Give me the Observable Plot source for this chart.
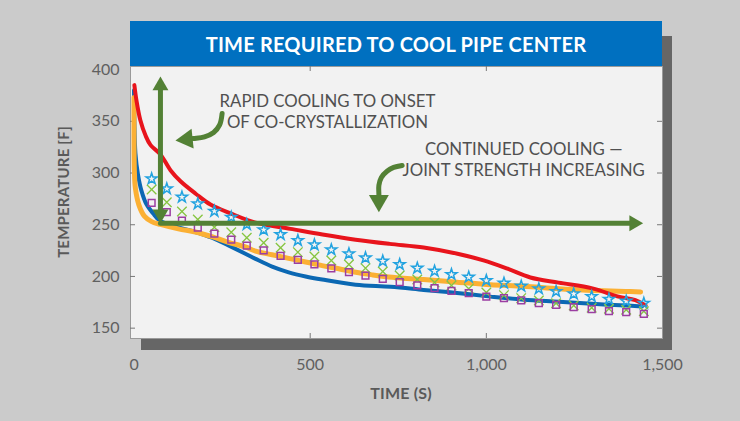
<!DOCTYPE html>
<html>
<head>
<meta charset="utf-8">
<script src="https://cdn.jsdelivr.net/npm/d3@7"></script>
<script src="https://cdn.jsdelivr.net/npm/@observablehq/plot@0.6"></script>
<style>
  html, body { margin: 0; padding: 0; background: #cbcbcb; }
  #wrap { position: relative; width: 740px; height: 421px; overflow: hidden; background: #cbcbcb; font-family: Lato, "Open Sans", sans-serif; }
  #shadow { position: absolute; left: 141px; top: 36px; width: 531px; height: 314px; background: #666666; }
  #title { position: absolute; left: 130px; top: 21px; width: 532px; height: 45px; background: #0070c0; color: #ffffff;
           font: bold 20px Lato, sans-serif; display: flex; align-items: center; justify-content: center; letter-spacing: 0.2px; }
  #chart { position: absolute; left: 0; top: 0; }
  .axt { position: absolute; white-space: nowrap; font: bold 15px Lato, sans-serif; color: #5a5a5a; letter-spacing: 0.2px; }
</style>
</head>
<body>
<div id="wrap">
  <div id="shadow"></div>
  <div id="chart"></div>
  <div id="title">TIME REQUIRED TO COOL PIPE CENTER</div>
  <div class="axt" style="left:63px; top:192px; transform: translate(-50%,-50%) rotate(-90deg);">TEMPERATURE [F]</div>
  <div class="axt" style="left:401px; top:392px; transform: translate(-50%,-50%); font-size:16px;">TIME (S)</div>
</div>
<script>
// ---- axis ticks ----
const xTicks = [0, 500, 1000, 1500];
const yTicks = [150, 200, 250, 300, 350, 400];
const xTickMarks = [500, 1000];
const yTickMarks = [150, 200, 250, 300, 350];

// ---- red line ----
const redTime = [1, 7, 18, 33, 47, 75, 104, 132, 175, 217, 274, 345, 444, 535, 629, 725, 822, 918, 992, 1060, 1125, 1205, 1301, 1375, 1423, 1452];
const redTemp = [385, 370, 351, 336, 327, 318, 302.5, 292, 280, 269.5, 261, 252, 246, 240.5, 235.5, 231.5, 228, 222, 215.5, 207.5, 199, 194, 188.5, 180.5, 177, 172];

// ---- blue line ----
const blueTime = [0, 1, 4, 11, 21, 35, 54, 73, 126, 174, 221, 268, 316, 345, 392, 439, 487, 534, 629, 728, 822, 917, 1012, 1106, 1206, 1300, 1395, 1442];
const blueTemp = [380, 351, 319, 299, 283, 270, 261, 254, 247.5, 243, 237.5, 230, 222, 217, 209.5, 204, 200, 197, 192, 190, 187, 184, 180.5, 177.5, 175.5, 173.5, 172, 171];

// ---- orange line ----
const orangeTime = [0, 0, 1, 4, 14, 30, 50, 75, 126, 174, 221, 268, 316, 345, 392, 439, 487, 534, 581, 629, 676, 723, 822, 917, 1012, 1106, 1206, 1300, 1395, 1438];
const orangeTemp = [373, 335, 302, 285, 269, 258, 253, 250.3, 246, 243, 238.5, 233, 228.5, 224.5, 221, 217.5, 214, 210.5, 207.5, 204, 201.5, 199.5, 197, 194.5, 192, 190.5, 188, 186.5, 185.5, 185];

// ---- marker series ----
const markerTime = [50, 93, 136, 181, 228, 276, 320, 368, 416, 465, 512, 560, 610, 657, 706, 754, 804, 853, 901, 950, 1000, 1050, 1099, 1149, 1198, 1248, 1299, 1348, 1397, 1447];
const starTemp   = [294.4, 284.8, 276.7, 270.3, 263.1, 257.3, 250.3, 245.1, 240.6, 234.8, 230.6, 225.8, 221.9, 218, 214.8, 211.6, 208, 205.1, 201.9, 199.3, 196.1, 193.5, 190.6, 188.1, 185.5, 183.2, 180.6, 178, 176.1, 174.1];
const crossTemp  = [284.1, 271.8, 262.8, 255.1, 247.6, 242.8, 237.4, 232.6, 227.7, 223.5, 219.3, 215.4, 211.6, 208, 204.8, 200.9, 197.1, 194.2, 191.3, 188.1, 184.5, 181.9, 179, 176.8, 174.1, 171.9, 169.7, 168.7, 167.8, 166.4];
const squareTemp = [271.2, 262.1, 254.1, 247.1, 241.3, 235.5, 229.9, 225.1, 220, 216.1, 211.6, 207.7, 204.1, 200.9, 197.7, 194.4, 191.3, 188.6, 186.1, 183.8, 180.6, 179, 176.8, 174.1, 172.6, 170.3, 168.3, 166.4, 165.4, 163.9];

// ---- annotations (data coordinates) ----
const noteLines = ["RAPID COOLING TO ONSET", "OF CO-CRYSTALLIZATION", "CONTINUED COOLING \u2014", "JOINT STRENGTH INCREASING"];
const noteX = [549, 549, 1106, 1106];
const noteY = [369, 349, 322.5, 302.5];

const vShaftX = [75, 75];          const vShaftY = [384.5, 260.4];
const hShaftX = [75, 1419];        const hShaftY = [251.5, 251.5];
const curve1X = [250, 243, 226, 200, 169, 150];          const curve1Y = [357.6, 346.5, 339.2, 335, 333.4, 332.7];
const curve2X = [761, 737, 719, 702, 695, 695, 695];     const curve2Y = [307.3, 305.4, 302, 295.7, 288, 279.3, 273.3];
// straight arrow heads
const headX = [75, 75, 1419];
const headY = [384.5, 260.4, 251.5];
const headAngle = [0, 180, 90];
// curved arrow heads
const bigHeadX = [150, 695];
const bigHeadY = [332.7, 273.3];
const bigHeadAngle = [-96, 180];

// ---- tables ----
const rows = (xs, ys) => xs.map((x, i) => ({x, y: ys[i]}));
const markers = markerTime.map((t, i) => ({t, star: starTemp[i], cross: crossTemp[i], square: squareTemp[i]}));
const notes = noteLines.map((s, i) => ({s, x: noteX[i], y: noteY[i]}));
const heads = headX.map((x, i) => ({x, y: headY[i], a: headAngle[i]}));
const bigHeads = bigHeadX.map((x, i) => ({x, y: bigHeadY[i], a: bigHeadAngle[i]}));

const GREEN = "#538135";

const chart = Plot.plot({
  width: 740,
  height: 421,
  marginLeft: 130,
  marginRight: 78,
  marginTop: 66,
  marginBottom: 83,
  style: {background: "transparent", fontFamily: "Lato, sans-serif", fontSize: "16px", color: "#606060", overflow: "visible"},
  x: {domain: [-10, 1500], label: null},
  y: {domain: [140, 403], label: null},
  marks: [
    Plot.frame({fill: "#f2f2f2", stroke: "#9a9a9a"}),
    Plot.ruleX(xTickMarks, {x: d => d, insetTop: 267, stroke: "#777"}),
    Plot.ruleX(xTickMarks, {x: d => d, insetBottom: 267, stroke: "#777"}),
    Plot.ruleY(yTickMarks, {y: d => d, insetRight: 527, stroke: "#777"}),
    Plot.ruleY(yTickMarks, {y: d => d, insetLeft: 527, stroke: "#777"}),
    Plot.axisY({ticks: yTicks, tickSize: 0, tickPadding: 11, fontSize: 16}),
    Plot.axisX({ticks: xTicks, tickSize: 0, tickPadding: 20, tickFormat: d3.format(","), fontSize: 16}),
    Plot.line(rows(blueTime, blueTemp), {x: "x", y: "y", stroke: "#0b68b3", strokeWidth: 4, curve: "catmull-rom"}),
    Plot.line(rows(orangeTime, orangeTemp), {x: "x", y: "y", stroke: "#fbb034", strokeWidth: 5, curve: "catmull-rom"}),
    Plot.line(rows(redTime, redTemp), {x: "x", y: "y", stroke: "#e8141c", strokeWidth: 4, curve: "catmull-rom"}),
    Plot.dot(markers, {x: "t", y: "star", symbol: "star", r: 3.5, stroke: "#23a3e0", fill: "none", strokeWidth: 1.5}),
    Plot.dot(markers, {x: "t", y: "cross", symbol: "times", r: 4.4, stroke: "#86c540", fill: "none", strokeWidth: 1.3}),
    Plot.dot(markers, {x: "t", y: "square", symbol: "square", r: 3.8, stroke: "#9b3ea2", fill: "none", strokeWidth: 1.5}),
    Plot.line(rows(vShaftX, vShaftY), {x: "x", y: "y", stroke: GREEN, strokeWidth: 5}),
    Plot.line(rows(hShaftX, hShaftY), {x: "x", y: "y", stroke: GREEN, strokeWidth: 5}),
    Plot.line(rows(curve1X, curve1Y), {x: "x", y: "y", stroke: GREEN, strokeWidth: 5, curve: "catmull-rom"}),
    Plot.line(rows(curve2X, curve2Y), {x: "x", y: "y", stroke: GREEN, strokeWidth: 5, curve: "catmull-rom"}),
    Plot.dot(heads, {x: "x", y: "y", r: 5.9, rotate: "a", symbol: "triangle", fill: GREEN, stroke: "none"}),
    Plot.dot(bigHeads, {x: "x", y: "y", r: 7.4, rotate: "a", symbol: "triangle", fill: GREEN, stroke: "none"}),
    Plot.text(notes, {x: "x", y: "y", text: "s", fontSize: 16.8, fill: "#505050", textAnchor: "middle"})
  ]
});
document.getElementById("chart").appendChild(chart);
</script>
</body>
</html>
